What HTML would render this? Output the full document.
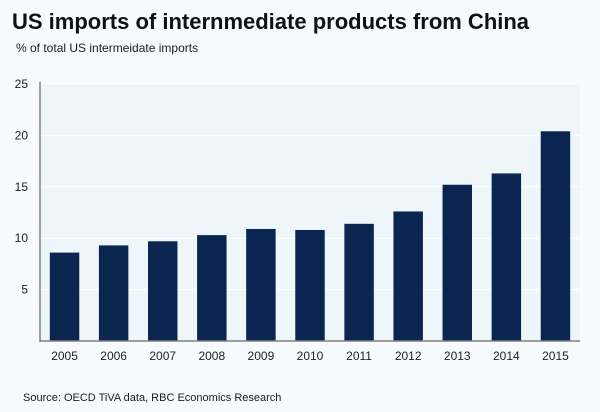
<!DOCTYPE html>
<html><head><meta charset="utf-8"><style>
body{margin:0;background:#f7fbfd;font-family:"Liberation Sans",sans-serif;}
#wrap{position:relative;width:600px;height:412px;overflow:hidden;background:#f7fbfd;}
.t{position:absolute;white-space:nowrap;color:#1a1a1a;}
</style></head><body>
<div id="wrap">
<div class="t" style="left:12px;top:9px;font-size:22px;font-weight:bold;color:#111;">US imports of internmediate products from China</div>
<div class="t" style="left:16px;top:41px;font-size:12px;">% of total US intermeidate imports</div>
<svg id="chart" width="600" height="412" style="position:absolute;left:0;top:0"></svg>
<div class="t" style="left:23px;top:392px;font-size:11px;">Source: OECD TiVA data, RBC Economics Research</div>
</div>
<script>
const categories=["2005","2006","2007","2008","2009","2010","2011","2012","2013","2014","2015"];
const values=[8.6,9.3,9.7,10.3,10.9,10.8,11.4,12.6,15.2,16.3,20.4];
const yTicks=[5,10,15,20,25];
const NS="http://www.w3.org/2000/svg";
const svg=document.getElementById('chart');
const X0=40,X1=580,Y0=341,Y1=84,YMAX=25;
const band=(X1-X0)/categories.length;
const y=v=>Y0-(v/YMAX)*(Y0-Y1);
const xc=i=>X0+band*(i+0.5);
function mk(t,a){const e=document.createElementNS(NS,t);for(const k in a)e.setAttribute(k,a[k]);svg.appendChild(e);return e;}
let bg=mk('rect',{x:X0,y:Y1,width:X1-X0,height:Y0-Y1,fill:'#eef6f9'});


yTicks.forEach(v=>{
 let g=mk('line',{x1:X0,x2:X1,y1:y(v),y2:y(v),stroke:'#ffffff','stroke-width':1});
 
 
 let t=mk('text',{x:28,y:y(v)+4,'text-anchor':'end','font-size':12,fill:'#222','font-family':'Liberation Sans, sans-serif'});
 t.textContent=v;
 
 
});
categories.forEach((c,i)=>{
 const w=band*0.6;
 let r=mk('rect',{x:xc(i)-w/2,y:y(values[i]),width:w,height:Y0-y(values[i]),fill:'#0a2550'});
 
 
 let t=mk('text',{x:xc(i),y:360,'text-anchor':'middle','font-size':12,fill:'#222','font-family':'Liberation Sans, sans-serif'});
 t.textContent=c;
 
 
});
let ya=mk('line',{x1:X0,x2:X0,y1:Y1-2,y2:Y0+1,stroke:'#808080','stroke-width':1.5});


let xa=mk('line',{x1:X0,x2:X1,y1:Y0,y2:Y0,stroke:'#808080','stroke-width':1.5});


</script>
</body></html>
